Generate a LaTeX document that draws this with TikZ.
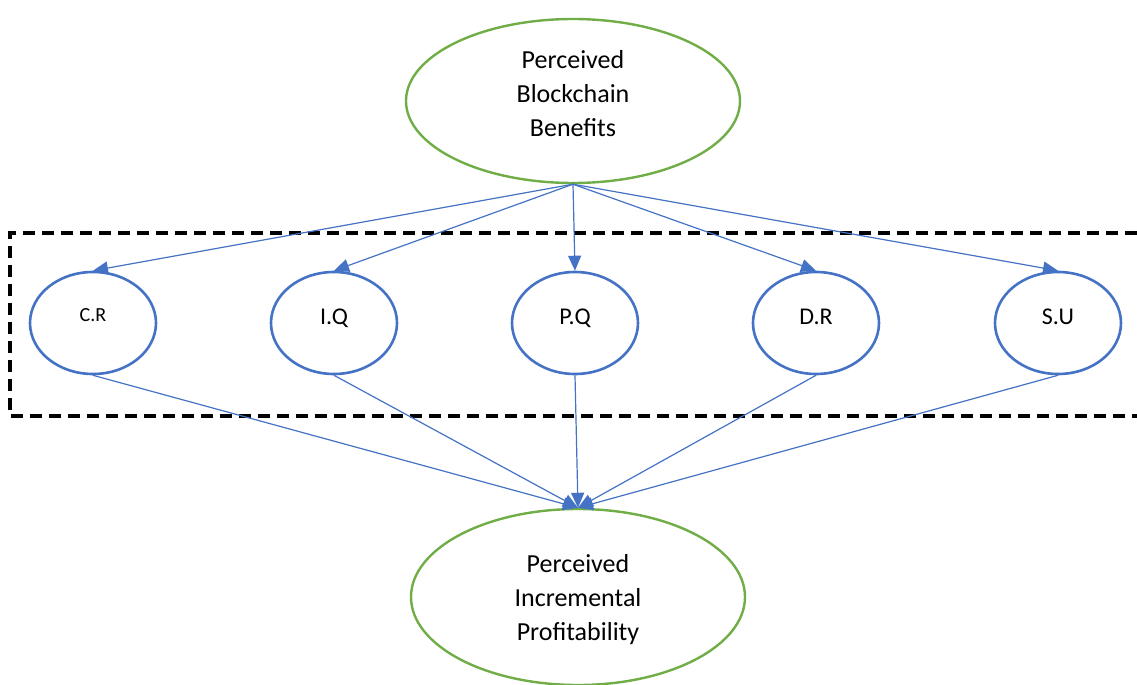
\documentclass[tikz,border=0pt]{standalone}
\usepackage{fontspec}
\setmainfont{Carlito}
\usetikzlibrary{arrows.meta,positioning,shapes.geometric}
\definecolor{wblue}{HTML}{4472C4}
\definecolor{wgreen}{HTML}{70AD47}
\tikzset{
  big/.style  ={ellipse,draw=wgreen,line width=1.2pt,minimum width=167pt,minimum height=82pt,
                align=center,font=\fontsize{13}{17}\selectfont,inner sep=0pt},
  fac/.style  ={ellipse,draw=wblue,line width=1.3pt,minimum width=63pt,minimum height=51pt,
                font=\fontsize{12}{14}\selectfont,inner sep=0pt,text depth=6pt},
  ar/.style   ={draw=wblue,line width=0.6pt,-{Triangle[length=7.5pt,width=6.5pt]}},
  group/.style={line width=1.6pt,dash pattern=on 6pt off 3.5pt},
}

\begin{document}
\begin{tikzpicture}[x=0.5pt,y=-0.5pt]
  \useasboundingbox (0,0) rectangle (1137,685);
  \draw[group] (1137,233) -- (10,233) -- (10,416) -- (1137,416);
  \node[big,text depth=8pt] (PBB) at (573,101){Perceived\\Blockchain\\Benefits};
  \node[big,minimum height=88pt,text depth=0pt] (PIP) at (578,597){Perceived\\Incremental\\Profitability};
  \node[fac,font=\fontsize{10}{12}\selectfont,text depth=8pt] (CR) at (93,323){C.R};
  \node[fac] (IQ) at (334,323){I.Q};
  \node[fac] (PQ) at (575,323){P.Q};
  \node[fac] (DR) at (816,323){D.R};
  \node[fac] (SU) at (1058,323){S.U};
  \foreach \f in {CR,IQ,PQ,DR,SU}{
    \draw[ar] (PBB.south) -- (\f.north);
    \draw[ar] (\f.south) -- (PIP.north);
  }
\end{tikzpicture}
\end{document}
